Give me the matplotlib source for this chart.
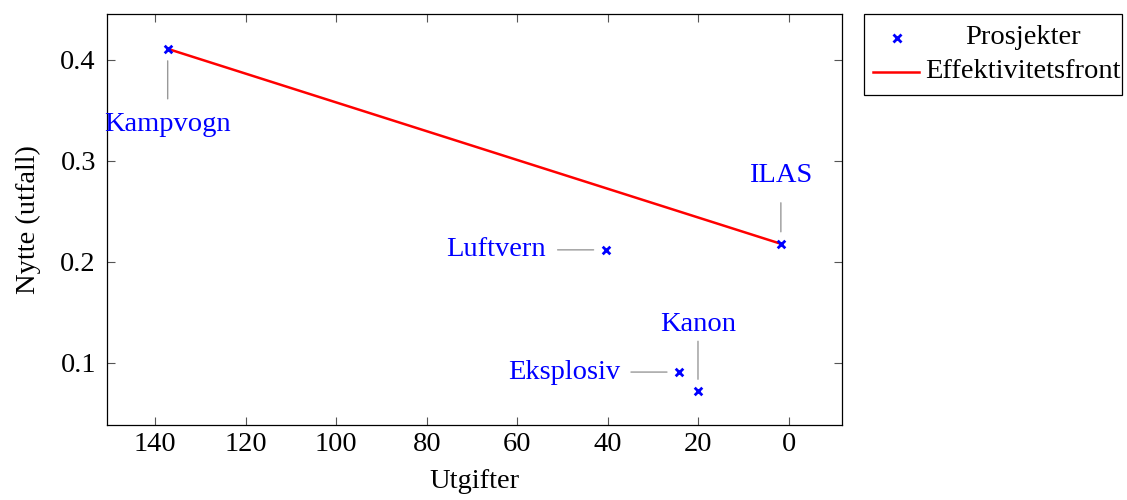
import matplotlib
matplotlib.use("Agg")
import matplotlib.pyplot as plt
from matplotlib.lines import Line2D
from matplotlib.patches import Rectangle

plt.rcParams['font.family'] = ['Liberation Serif', 'DejaVu Serif']

# projects: cost (utgifter) and utility (nytte)
names = ['Kampvogn', 'ILAS', 'Luftvern', 'Eksplosiv', 'Kanon']
cost = [137.2, 1.8, 40.5, 24.3, 20.1]
utility = [0.411, 0.218, 0.212, 0.091, 0.072]

# efficiency frontier goes through these projects
front = ['Kampvogn', 'ILAS']

# label placement: (dx, dy) in pixels for text, pin end, ha
label_pos = {
    'Kampvogn': ((0, -76), (0, -50), 'center'),
    'ILAS': ((0, 68), (0, 41), 'center'),
    'Luftvern': ((-60, 0), (-48, 0), 'right'),
    'Eksplosiv': ((-59, 0), (-48, 0), 'right'),
    'Kanon': ((0, 67), (0, 50), 'center'),
}

W, H = 1127, 500
fig = plt.figure(figsize=(W / 100, H / 100), dpi=100)
ax = fig.add_axes([107 / W, 75 / H, 735 / W, 411 / H])

fx = [cost[names.index(n)] for n in front]
fy = [utility[names.index(n)] for n in front]
ax.plot(fx, fy, color='red', lw=1.8, zorder=2)
ax.scatter(cost, utility, marker='x', color='blue', s=30, linewidths=2, zorder=3)

for n, x, y in zip(names, cost, utility):
    (tx, ty), (px, py), ha = label_pos[n]
    gap = 12 * 0.72
    ax.annotate('', xy=(x, y), xytext=(px, py), textcoords='offset pixels',
                arrowprops=dict(arrowstyle='-', color='#999999', lw=1,
                                shrinkA=0, shrinkB=gap))
    ax.annotate(n, xy=(x, y), xytext=(tx, ty), textcoords='offset pixels',
                ha=ha, va='center', color='blue', fontsize=20.5)

ax.set_xlim(150.6, -11.7)
ax.set_ylim(0.0386, 0.4455)
ax.set_xticks([140, 120, 100, 80, 60, 40, 20, 0])
ax.set_yticks([0.1, 0.2, 0.3, 0.4])
ax.tick_params(direction='in', top=True, right=True, length=6, width=0.8,
               color='#555555', labelsize=20.5)
ax.tick_params(axis='x', pad=5)
ax.tick_params(axis='y', pad=8)
for s in ax.spines.values():
    s.set_linewidth(0.9)

ax.set_xlabel('Utgifter', fontsize=20.5, labelpad=9)
ax.set_ylabel('Nytte (utfall)', fontsize=20.5, labelpad=14)

# legend box drawn pgfplots-style (centred text column)
def fp(x, y):
    return x / W, 1 - y / H

x0, y0 = fp(864, 95)
x1, y1 = fp(1122, 14)
fig.add_artist(Rectangle((x0, y0), x1 - x0, y1 - y0, transform=fig.transFigure,
                         fill=False, edgecolor='black', lw=0.9))
fig.add_artist(Line2D([fp(897, 0)[0]], [fp(0, 38)[1]], transform=fig.transFigure,
                      marker='x', color='blue', ms=6, mew=2, ls='none'))
fig.add_artist(Line2D([fp(873, 0)[0], fp(919, 0)[0]], [fp(0, 72)[1]] * 2,
                      transform=fig.transFigure, color='red', lw=1.8))
fig.text(fp(1023, 0)[0], fp(0, 38)[1], 'Prosjekter', ha='center', va='center',
         fontsize=20.5)
fig.text(fp(1023, 0)[0], fp(0, 72)[1], 'Effektivitetsfront', ha='center',
         va='center', fontsize=20.5)

fig.savefig('out.png', dpi=100)
